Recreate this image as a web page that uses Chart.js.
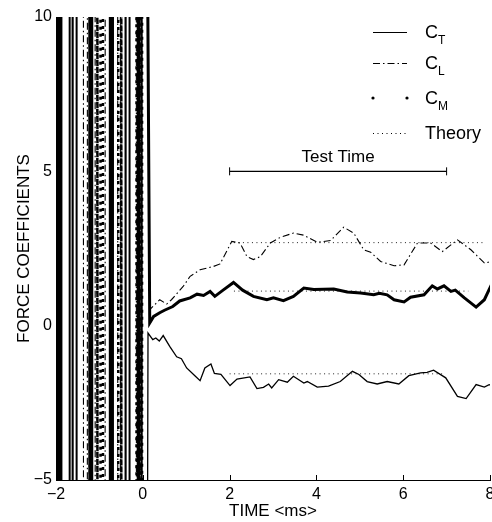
<!DOCTYPE html>
<html>
<head>
<meta charset="UTF-8">
<title>Force coefficients</title>
<script src="https://cdn.jsdelivr.net/npm/chart.js"></script>
<style>
  body { margin: 0; background: #fff; }
</style>
</head>
<body>
<canvas id="forceChart" width="492" height="522"></canvas>
<script>
// tick labels
const xTicks = [-2, 0, 2, 4, 6, 8];
const yTicks = [-5, 0, 5, 10];

// C_T (thin solid). Before t=0 the signal swings far off scale (vertical strokes)
const ctTime = [
  -2.00, -1.995, -1.965, -1.96, -1.935, -1.93, -1.905, -1.90, -1.88, -1.875,
  -1.69, -1.685, -1.62, -1.615, -1.53, -1.525, -1.235, -1.23, -1.21, -1.205,
  -1.17, -1.165, -0.765, -0.76, -0.73, -0.725, -0.69, -0.685, -0.40, -0.395,
  -0.31, -0.305, -0.12, -0.115, -0.09, -0.085, -0.03, -0.025, 0.05,
  0.12, 0.23, 0.30, 0.38, 0.47, 0.62, 0.78, 0.89, 1.01, 1.20, 1.32, 1.43, 1.57, 1.65, 1.80,
  2.01, 2.17, 2.47, 2.63, 2.78, 2.90, 2.97, 3.13, 3.33, 3.47, 3.71, 3.79, 4.02, 4.28, 4.55,
  4.83, 4.98, 5.17, 5.40, 5.63, 5.90, 6.13, 6.40, 6.55, 6.70, 6.98, 7.25, 7.45, 7.68, 7.87,
  7.98, 8.05
];
const ctValue = [
  40, -40, -40, 40, 40, -40, -40, 40, 40, -40,
  -40, 40, 40, -40, -40, 40, 40, -40, -40, 40,
  40, -40, -40, 40, 40, -40, -40, 40, 40, -40,
  -40, 40, 40, -40, -40, 40, 40, -40, -40,
  -0.24, -0.45, -0.40, -0.50, -0.32, -0.67, -1.01, -1.07, -1.37, -1.62, -1.78, -1.37, -1.24, -1.55, -1.58,
  -1.94, -1.73, -1.66, -2.04, -2.00, -1.89, -2.02, -1.75, -1.83, -1.64, -1.86, -1.81, -1.99, -1.96, -1.81,
  -1.48, -1.58, -1.81, -1.89, -1.81, -1.89, -1.62, -1.53, -1.51, -1.44, -1.69, -2.29, -2.36, -1.91, -1.99,
  -1.91, -1.94
];

// C_L (dash-dot)
const clTime = [
  -2.00, -1.37, -1.365, -1.28, -1.275, -1.10, -1.095, -0.87, -0.865, -0.58, -0.575, -0.52, -0.515,
  -0.15, -0.145, -0.05, -0.045,
  0.16, 0.39, 0.55, 0.66, 0.93, 1.09, 1.32, 1.63, 1.78, 2.05, 2.24, 2.40, 2.55, 2.71, 2.94, 3.17,
  3.47, 3.71, 4.02, 4.33, 4.63, 4.86, 5.09, 5.25, 5.48, 5.79, 6.02, 6.33, 6.63, 6.90, 7.25, 7.56,
  7.87, 8.05
];
const clValue = [
  40, 40, -40, -40, 40, 40, -40, -40, 40, 40, -40, -40, 40,
  40, -40, -40, 40,
  0.52, 0.84, 0.70, 0.84, 1.27, 1.60, 1.81, 1.92, 2.00, 2.73, 2.68, 2.24, 2.14, 2.24, 2.68, 2.86,
  3.00, 2.93, 2.70, 2.76, 3.19, 3.00, 2.46, 2.38, 2.08, 1.94, 1.97, 2.68, 2.68, 2.40, 2.78, 2.46,
  2.03, 2.08
];

// C_M (dense dots, reads as a thick line)
const cmTime = [
  -2.00, -1.22, -1.215, -1.05, -1.045, -0.98, -0.975, -0.92, -0.915, -0.57, -0.565, -0.50, -0.495,
  -0.15, -0.145, -0.08, -0.075, -0.02, -0.015,
  0.16, 0.25, 0.39, 0.50, 0.69, 0.85, 1.09, 1.25, 1.40, 1.55, 1.66, 1.85, 2.09, 2.30, 2.55, 2.86,
  3.01, 3.24, 3.47, 3.71, 3.94, 4.40, 4.71, 5.02, 5.32, 5.45, 5.63, 5.79, 6.02, 6.17, 6.48, 6.67,
  6.79, 6.94, 7.10, 7.20, 7.41, 7.68, 7.87, 8.05
];
const cmValue = [
  -40, -40, 40, 40, -40, -40, 40, 40, -40, -40, 40, 40, -40,
  -40, 40, 40, -40, -40, 40,
  0.09, 0.30, 0.42, 0.50, 0.62, 0.80, 0.90, 1.02, 0.98, 1.11, 0.95, 1.15, 1.40, 1.15, 0.95, 0.84,
  0.90, 0.81, 0.95, 1.22, 1.17, 1.19, 1.09, 1.06, 1.00, 1.05, 1.00, 0.84, 0.77, 0.92, 1.00, 1.29,
  1.19, 1.29, 1.11, 1.15, 0.90, 0.60, 0.84, 1.38
];

// theory levels (C_L, C_M, C_T) and their extents
const theoryLevel = [2.69, 1.12, -1.56];
const theoryStart = [2.1, 2.1, 2.0];
const theoryEnd = [7.9, 7.5, 6.9];

// test time window
const testTimeStart = 2;
const testTimeEnd = 7;
const testTimeLevel = 5;

const FONT = '"Liberation Sans", Arial, Helvetica, sans-serif';
const forestEnd = 0.1;

function pts(t, v) { return t.map((x, i) => ({ x: x, y: v[i] })); }
const inForest = c => c.p1.parsed.x < forestEnd;

const datasets = [
  {
    label: 'C_T', data: pts(ctTime, ctValue), borderColor: '#000', borderWidth: 1.3,
    segment: { borderWidth: c => inForest(c) ? 2 : undefined }
  },
  { label: 'C_L', data: pts(clTime, clValue), borderColor: '#000', borderWidth: 1.1, borderDash: [7, 3, 1.5, 3] },
  {
    label: 'C_M', data: pts(cmTime, cmValue), borderColor: '#000', borderWidth: 3,
    segment: {
      borderDash: c => inForest(c) ? [3, 4] : undefined,
      borderWidth: c => inForest(c) ? 2.5 : undefined
    }
  }
];
theoryLevel.forEach((lvl, i) => {
  datasets.push({
    label: 'Theory', data: [{ x: theoryStart[i], y: lvl }, { x: theoryEnd[i], y: lvl }],
    borderColor: '#222', borderWidth: 1, borderDash: [1, 3.5]
  });
});
datasets.push({
  label: 'Test Time', data: [{ x: testTimeStart, y: testTimeLevel }, { x: testTimeEnd, y: testTimeLevel }],
  borderColor: '#000', borderWidth: 1.2
});

const legendEntries = [
  { main: 'C', sub: 'T', y: 32, dash: [], dots: false },
  { main: 'C', sub: 'L', y: 63, dash: [7, 3, 1.5, 3], dots: false },
  { main: 'C', sub: 'M', y: 98, dash: [], dots: true },
  { main: 'Theory', sub: '', y: 133, dash: [1, 3.5], dots: false }
];

const extras = {
  id: 'extras',
  afterDatasetsDraw(chart) {
    const { ctx, chartArea, scales: { x, y } } = chart;
    ctx.save();
    ctx.strokeStyle = '#000';
    ctx.fillStyle = '#000';
    ctx.lineWidth = 1;

    // inward tick marks
    xTicks.forEach(v => {
      const px = Math.round(x.getPixelForValue(v)) + 0.5;
      ctx.beginPath();
      ctx.moveTo(px, chartArea.bottom);
      ctx.lineTo(px, chartArea.bottom - 5);
      ctx.stroke();
    });
    yTicks.forEach(v => {
      const py = Math.round(y.getPixelForValue(v)) + 0.5;
      ctx.beginPath();
      ctx.moveTo(chartArea.left, py);
      ctx.lineTo(chartArea.left + 5, py);
      ctx.stroke();
    });

    // test time end caps and label
    const tx0 = x.getPixelForValue(testTimeStart);
    const tx1 = x.getPixelForValue(testTimeEnd);
    const ty = y.getPixelForValue(testTimeLevel);
    [tx0, tx1].forEach(px => {
      ctx.beginPath();
      ctx.moveTo(px, ty - 4);
      ctx.lineTo(px, ty + 4);
      ctx.stroke();
    });
    ctx.font = '17px ' + FONT;
    ctx.textAlign = 'center';
    ctx.textBaseline = 'alphabetic';
    ctx.fillText('Test Time', (tx0 + tx1) / 2, ty - 9);

    // legend
    const lx0 = 373, lx1 = 407, tx = 425;
    legendEntries.forEach(e => {
      if (e.dots) {
        [lx0, lx1].forEach(px => {
          ctx.beginPath();
          ctx.arc(px, e.y, 1.6, 0, Math.PI * 2);
          ctx.fill();
        });
      } else {
        ctx.setLineDash(e.dash);
        ctx.lineWidth = 1;
        ctx.beginPath();
        ctx.moveTo(lx0, e.y + 0.5);
        ctx.lineTo(lx1, e.y + 0.5);
        ctx.stroke();
        ctx.setLineDash([]);
      }
      ctx.textAlign = 'left';
      ctx.textBaseline = 'alphabetic';
      ctx.font = '18px ' + FONT;
      ctx.fillText(e.main, tx, e.y + 6);
      if (e.sub) {
        const w = ctx.measureText(e.main).width;
        ctx.font = '12px ' + FONT;
        ctx.fillText(e.sub, tx + w, e.y + 12);
      }
    });
    ctx.restore();
  }
};

const minusFmt = v => String(v).replace('-', '\u2212');

new Chart(document.getElementById('forceChart'), {
  type: 'line',
  data: { datasets: datasets },
  options: {
    responsive: false,
    animation: false,
    layout: { padding: { top: 17, right: 2, left: 0, bottom: 0 } },
    elements: { point: { radius: 0 }, line: { tension: 0 } },
    plugins: { legend: { display: false }, tooltip: { enabled: false } },
    scales: {
      x: {
        type: 'linear', min: -2, max: 8,
        afterBuildTicks: s => { s.ticks = xTicks.map(v => ({ value: v })); },
        afterFit: s => { s.height = 42; s.paddingLeft = 0; s.paddingRight = 0; },
        grid: { display: false, drawTicks: false },
        border: { display: true, color: '#000', width: 1 },
        ticks: { color: '#000', font: { family: FONT, size: 16 }, padding: 5, maxRotation: 0, callback: minusFmt },
        title: { display: true, text: 'TIME <ms>', color: '#000', font: { family: FONT, size: 17 }, padding: { top: 0, bottom: 0 } }
      },
      y: {
        type: 'linear', min: -5, max: 10,
        afterBuildTicks: s => { s.ticks = yTicks.map(v => ({ value: v })); },
        afterFit: s => { s.width = 56; s.paddingTop = 0; s.paddingBottom = 0; },
        grid: { display: false, drawTicks: false },
        border: { display: true, color: '#000', width: 1 },
        ticks: { color: '#000', font: { family: FONT, size: 16 }, padding: 4, callback: minusFmt },
        title: { display: true, text: 'FORCE COEFFICIENTS', color: '#000', font: { family: FONT, size: 17 }, padding: { top: 14, bottom: 0 } }
      }
    }
  },
  plugins: [extras]
});
</script>
</body>
</html>
